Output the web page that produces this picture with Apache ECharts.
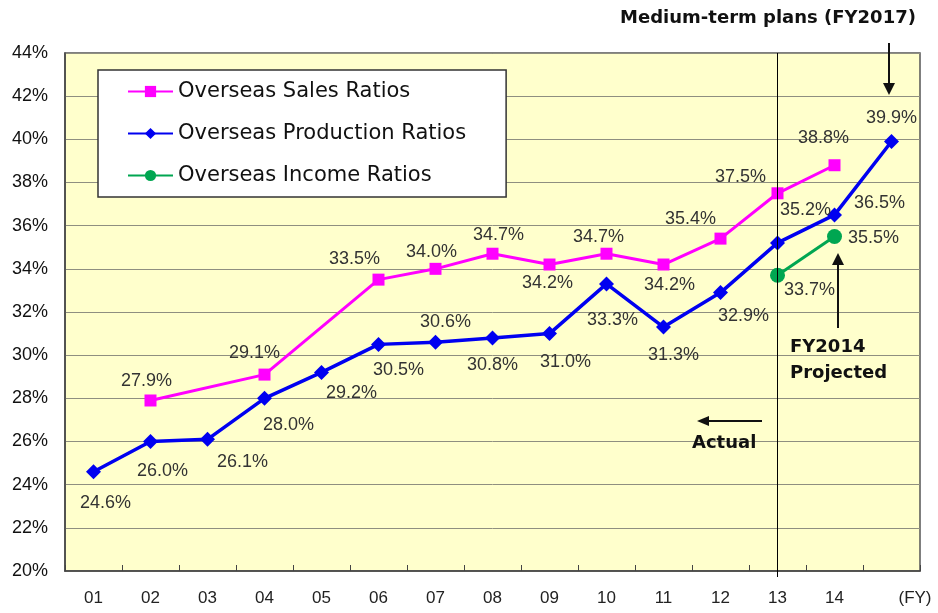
<!DOCTYPE html>
<html>
<head>
<meta charset="utf-8">
<script src="https://cdn.jsdelivr.net/npm/echarts@6/dist/echarts.min.js"></script>
<style>
html,body{margin:0;padding:0;background:#fff;}
#chart{width:938px;height:613px;}
</style>
</head>
<body>
<div id="chart"></div>
<script>
// ---- data ----
var categories = ['01','02','03','04','05','06','07','08','09','10','11','12','13','14',''];
var salesRatios = [null, 27.9, null, 29.1, null, 33.5, 34.0, 34.7, 34.2, 34.7, 34.2, 35.4, 37.5, 38.8, null];
var productionRatios = [24.6, 26.0, 26.1, 28.0, 29.2, 30.5, 30.6, 30.8, 31.0, 33.3, 31.3, 32.9, 35.2, 36.5, 39.9];
var incomeRatios = [null, null, null, null, null, null, null, null, null, null, null, null, 33.7, 35.5, null];
var yTicks = {min: 20, max: 44, interval: 2};
var seriesNames = ['Overseas Sales Ratios', 'Overseas Production Ratios', 'Overseas Income Ratios'];

// ---- label offsets (style only) ----
var salesOff = [null,[-4,-19],null,[-10,-22],null,[-24,-21],[-4,-17],[6,-19],[-2,19],[-8,-17],[6,21],[-30,-20],[-37,-16],[-11,-27],null];
var prodOff = [[12,31],[12,30],[35,23],[24,27],[30,21],[20,26],[10,-20],[0,27],[16,28],[6,36],[10,28],[23,23],[28,-33],[45,-12],[0,-23]];
var incOff = [null,null,null,null,null,null,null,null,null,null,null,null,[32,15],[39,2],null];

var labelFont = "'Liberation Sans',Arial,sans-serif";

function build(values, offs) {
  return values.map(function (v, i) {
    if (v === null) return null;
    return {
      value: v,
      label: {
        show: true,
        position: 'inside',
        offset: offs[i] || [0, 0],
        formatter: function (p) { return p.value.toFixed(1) + '%'; },
        color: '#333',
        fontSize: 18,
        fontFamily: labelFont
      }
    };
  });
}

function arrowDown(x, y1, y2) {
  return [
    {type:'line', shape:{x1:x, y1:y1, x2:x, y2:y2-10}, style:{stroke:'#111', lineWidth:2}, z:100},
    {type:'polygon', shape:{points:[[x-6,y2-12],[x+6,y2-12],[x,y2]]}, style:{fill:'#111'}, z:100}
  ];
}
function arrowUp(x, y1, y2) {
  return [
    {type:'line', shape:{x1:x, y1:y1, x2:x, y2:y2+10}, style:{stroke:'#111', lineWidth:2}, z:100},
    {type:'polygon', shape:{points:[[x-6,y2+12],[x+6,y2+12],[x,y2]]}, style:{fill:'#111'}, z:100}
  ];
}
function arrowLeft(y, x1, x2) {
  return [
    {type:'line', shape:{x1:x1, y1:y, x2:x2+10, y2:y}, style:{stroke:'#111', lineWidth:2}, z:100},
    {type:'polygon', shape:{points:[[x2+12,y-5],[x2+12,y+5],[x2,y]]}, style:{fill:'#111'}, z:100}
  ];
}

var chart = echarts.init(document.getElementById('chart'), null, {renderer:'canvas'});
var annFont = "'DejaVu Sans',Arial,sans-serif";
var graphics = []
  .concat(arrowDown(889, 43, 95))
  .concat(arrowUp(838, 328, 253))
  .concat(arrowLeft(421, 762, 697))
  .concat([
    {type:'line', shape:{x1:777.5, y1:571, x2:777.5, y2:577}, style:{stroke:'#000', lineWidth:1}, z:100},
    {type:'text', x:768, y:18, style:{text:'Medium-term plans (FY2017)', font:"bold 18px " + annFont, fill:'#111', textAlign:'center', textVerticalAlign:'middle'}, z:100},
    {type:'text', x:790, y:347, style:{text:'FY2014', font:"bold 18px " + annFont, fill:'#111', textAlign:'left', textVerticalAlign:'middle'}, z:100},
    {type:'text', x:790, y:373, style:{text:'Projected', font:"bold 18px " + annFont, fill:'#111', textAlign:'left', textVerticalAlign:'middle'}, z:100},
    {type:'text', x:692, y:443, style:{text:'Actual', font:"bold 18px " + annFont, fill:'#111', textAlign:'left', textVerticalAlign:'middle'}, z:100},
    {type:'text', x:915, y:598, style:{text:'(FY)', font:"17px 'Liberation Sans',Arial,sans-serif", fill:'#222', textAlign:'center', textVerticalAlign:'middle'}, z:100}
  ]);

var option = {
  animation: false,
  backgroundColor: '#ffffff',
  grid: {left: 65, right: 18, top: 53, bottom: 42, show: true, backgroundColor: '#FFFFCC', borderColor: '#555', borderWidth: 1.5},
  legend: {
    orient: 'vertical',
    left: 98, top: 70,
    data: seriesNames,
    backgroundColor: '#ffffff',
    borderColor: '#333',
    borderWidth: 1.5,
    padding: [11, 40, 11, 29],
    itemGap: 21,
    itemWidth: 45,
    itemHeight: 14,
    textStyle: {fontFamily: annFont, fontSize: 21, color: '#111'}
  },
  xAxis: {
    type: 'category',
    data: categories,
    boundaryGap: true,
    axisLine: {show: true, lineStyle: {color: '#444', width: 1.5}},
    axisTick: {show: true, inside: true, length: 6, lineStyle: {color: '#444'}},
    axisLabel: {margin: 19, fontSize: 17, color: '#222', fontFamily: "'Liberation Sans',Arial,sans-serif"},
    splitLine: {show: false}
  },
  yAxis: {
    type: 'value',
    min: yTicks.min, max: yTicks.max, interval: yTicks.interval,
    axisLine: {show: true, lineStyle: {color: '#444', width: 1.5}},
    axisTick: {show: false},
    axisLabel: {formatter: '{value}%', margin: 17, fontSize: 18, color: '#111', fontFamily: "'Liberation Sans',Arial,sans-serif"},
    splitLine: {show: true, lineStyle: {color: '#8f8f80', width: 1}}
  },
  series: [
    {
      name: seriesNames[0], type: 'line', data: build(salesRatios, salesOff), connectNulls: true,
      symbol: 'rect', symbolSize: 12,
      itemStyle: {color: '#FF00FF'}, lineStyle: {color: '#FF00FF', width: 3}, z: 3
    },
    {
      name: seriesNames[1], type: 'line', data: build(productionRatios, prodOff),
      symbol: 'diamond', symbolSize: 15,
      itemStyle: {color: '#0000F0'}, lineStyle: {color: '#0000F0', width: 3.5}, z: 2,
      markLine: {
        silent: true, symbol: ['none', 'none'], label: {show: false},
        lineStyle: {color: '#000', width: 1, type: 'solid'},
        data: [{xAxis: '13'}]
      }
    },
    {
      name: seriesNames[2], type: 'line', data: build(incomeRatios, incOff),
      symbol: 'circle', symbolSize: 15,
      itemStyle: {color: '#00A651'}, lineStyle: {color: '#00A651', width: 3}, z: 4
    }
  ],
  graphic: graphics
};
chart.setOption(option);
</script>
</body>
</html>
